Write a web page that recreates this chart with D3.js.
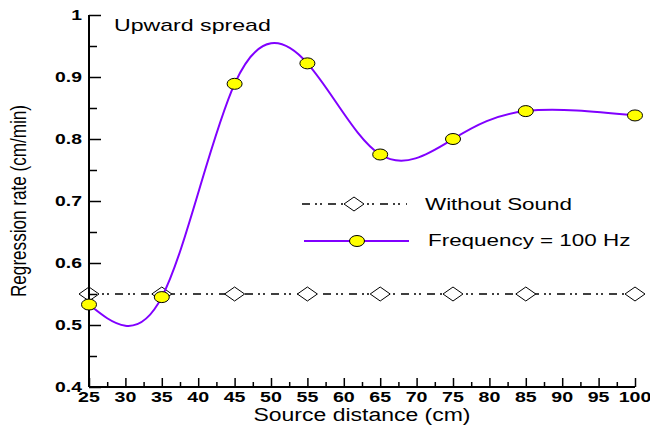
<!DOCTYPE html>
<html>
<head>
<meta charset="utf-8">
<script src="https://cdn.jsdelivr.net/npm/d3@7"></script>
<style>
  html, body { margin: 0; padding: 0; background: #fff; }
  text { font-family: "Liberation Sans", Arial, sans-serif; fill: #000; }
</style>
</head>
<body>
<svg id="chart" width="650" height="430"></svg>
<script>
// source distance (cm)
const distances = [25, 35, 45, 55, 65, 75, 85, 100];
// regression rate (cm/min)
const withoutSound = [0.55, 0.55, 0.55, 0.55, 0.55, 0.55, 0.55, 0.55];
const freq100 = [0.533, 0.545, 0.889, 0.922, 0.775, 0.80, 0.845, 0.838];

const xTicks = [25, 30, 35, 40, 45, 50, 55, 60, 65, 70, 75, 80, 85, 90, 95, 100];
const xMinor = [27.5, 32.5, 37.5, 42.5, 47.5, 52.5, 57.5, 62.5, 67.5, 72.5, 77.5, 82.5, 87.5, 92.5, 97.5];
const yTicks = [0.4, 0.5, 0.6, 0.7, 0.8, 0.9, 1];
const yMinor = [0.45, 0.55, 0.65, 0.75, 0.85, 0.95];

const seriesNames = ['Without Sound', 'Frequency = 100 Hz'];

const purple = '#8000ff';
const yellow = '#ffff00';

const svg = d3.select('#chart');

const x = d3.scaleLinear().domain([25, 100]).range([89, 635]);
const y = d3.scaleLinear().domain([0.4, 1]).range([387, 15]);

const withoutPts = distances.map((d, i) => [d, withoutSound[i]]);
const freqPts = distances.map((d, i) => [d, freq100[i]]);

// text in the original is stretched sideways
function stretch(sel, factor) {
  sel.each(function () {
    const w = this.getComputedTextLength();
    d3.select(this).attr('textLength', w * factor).attr('lengthAdjust', 'spacingAndGlyphs');
  });
}

function diamond(g, cx, cy) {
  g.append('path')
    .attr('d', `M${cx - 10},${cy} L${cx},${cy - 7} L${cx + 10},${cy} L${cx},${cy + 7} Z`)
    .attr('fill', '#fff')
    .attr('stroke', '#000')
    .attr('stroke-width', 1);
}

function ball(g, cx, cy) {
  g.append('ellipse')
    .attr('cx', cx).attr('cy', cy)
    .attr('rx', 7.5).attr('ry', 5.5)
    .attr('fill', yellow)
    .attr('stroke', '#000')
    .attr('stroke-width', 1);
}

const dashPattern = '8,5,2,3,2,6';

// without sound series
svg.append('path')
  .datum(withoutPts)
  .attr('fill', 'none')
  .attr('stroke', '#000')
  .attr('stroke-width', 1.5)
  .attr('stroke-dasharray', dashPattern)
  .attr('d', d3.line().x(d => x(d[0])).y(d => y(d[1])));

const dia = svg.append('g');
withoutPts.forEach(d => diamond(dia, x(d[0]), y(d[1])));

// axes
const xAxis = svg.append('g').attr('transform', `translate(0,${y(0.4)})`);
xAxis.call(d3.axisTop(x).tickValues(xTicks).tickSize(9).tickFormat(''));
xAxis.append('g').call(d3.axisTop(x).tickValues(xMinor).tickSize(5).tickFormat(''));
xAxis.selectAll('.domain').remove();
xAxis.append('line').attr('x1', x(25)).attr('x2', x(100)).attr('stroke', '#000').attr('stroke-width', 2);
xAxis.selectAll('.tick line').attr('stroke-width', 1.5);

const yAxis = svg.append('g').attr('transform', `translate(${x(25)},0)`);
yAxis.call(d3.axisRight(y).tickValues(yTicks).tickSize(12).tickFormat(''));
yAxis.append('g').call(d3.axisRight(y).tickValues(yMinor).tickSize(8).tickFormat(''));
yAxis.selectAll('.domain').remove();
yAxis.append('line').attr('y1', y(0.4)).attr('y2', y(1)).attr('stroke', '#000').attr('stroke-width', 2);
yAxis.selectAll('.tick line').attr('stroke-width', 1.5);

// tick labels
const xLab = svg.append('g').selectAll('text')
  .data(xTicks).join('text')
  .attr('x', d => x(d))
  .attr('y', 402)
  .attr('text-anchor', 'middle')
  .attr('font-size', 14)
  .attr('font-weight', 'bold')
  .text(d => d);
stretch(xLab, 1.4);

const yFmt = d3.format('.1~f');
const yLab = svg.append('g').selectAll('text')
  .data(yTicks).join('text')
  .attr('x', 82)
  .attr('y', d => y(d) + 5)
  .attr('text-anchor', 'end')
  .attr('font-size', 14)
  .attr('font-weight', 'bold')
  .text(d => yFmt(d));
stretch(yLab, 1.38);

// frequency series
svg.append('path')
  .datum(freqPts)
  .attr('fill', 'none')
  .attr('stroke', purple)
  .attr('stroke-width', 2)
  .attr('d', d3.line().x(d => x(d[0])).y(d => y(d[1])).curve(d3.curveNatural));

const balls = svg.append('g');
freqPts.forEach(d => ball(balls, x(d[0]), y(d[1])));

// titles
svg.append('text')
  .attr('x', 362).attr('y', 421)
  .attr('text-anchor', 'middle')
  .attr('font-size', 18)
  .attr('textLength', 217)
  .attr('lengthAdjust', 'spacingAndGlyphs')
  .text('Source distance (cm)');

svg.append('text')
  .attr('transform', 'translate(26,201) rotate(-90) scale(1,1.3)')
  .attr('text-anchor', 'middle')
  .attr('font-size', 17)
  .attr('textLength', 192)
  .attr('lengthAdjust', 'spacingAndGlyphs')
  .text('Regression rate (cm/min)');

const title = svg.append('text')
  .attr('x', 114).attr('y', 31)
  .attr('font-size', 17)
  .text('Upward spread');
stretch(title, 1.36);

// legend
const leg = svg.append('g');
leg.append('line')
  .attr('x1', 302).attr('x2', 407).attr('y1', 204).attr('y2', 204)
  .attr('stroke', '#000').attr('stroke-width', 1.5)
  .attr('stroke-dasharray', dashPattern);
diamond(leg, 354, 204);
leg.append('line')
  .attr('x1', 304).attr('x2', 409).attr('y1', 241).attr('y2', 241)
  .attr('stroke', purple).attr('stroke-width', 2);
ball(leg, 357, 241);

const legText = leg.selectAll('text.lt')
  .data(seriesNames).join('text')
  .attr('class', 'lt')
  .attr('x', (d, i) => i === 0 ? 425 : 428)
  .attr('y', (d, i) => i === 0 ? 210 : 246)
  .attr('font-size', 16)
  .text(d => d);
stretch(legText, 1.4);
</script>
</body>
</html>
